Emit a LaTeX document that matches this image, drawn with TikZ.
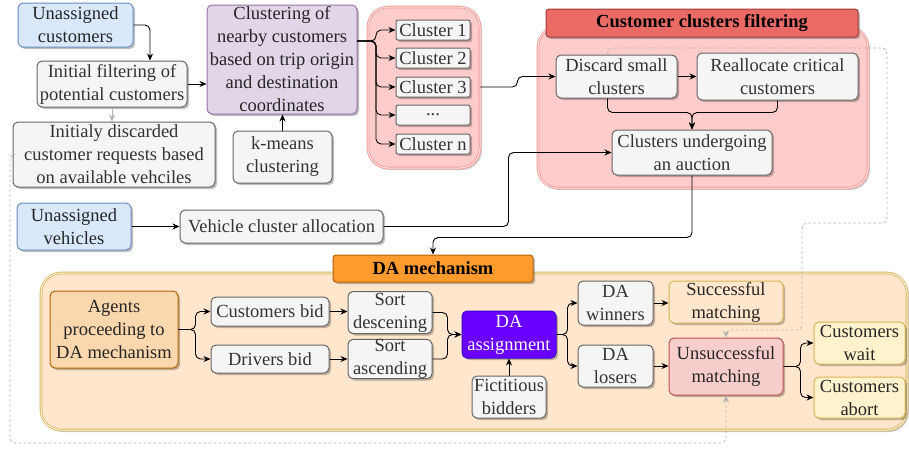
\documentclass[tikz,border=0pt]{standalone}
\usepackage{fontspec}
\setmainfont{Liberation Serif}
\usetikzlibrary{arrows.meta,shadows}

\definecolor{bluefill}{HTML}{DAE8FC}
\definecolor{blueline}{HTML}{6C8EBF}
\definecolor{grayfill}{HTML}{F5F5F5}
\definecolor{grayline}{HTML}{666666}
\definecolor{graytext}{HTML}{333333}
\definecolor{purplefill}{HTML}{E1D5E7}
\definecolor{purpleline}{HTML}{9673A6}
\definecolor{pinkfill}{HTML}{FFCCCC}
\definecolor{pinkline}{HTML}{F19C99}
\definecolor{redfill}{HTML}{EA6B66}
\definecolor{redline}{HTML}{A33B37}
\definecolor{orangefill}{HTML}{FF9A2E}
\definecolor{orangeline}{HTML}{B46504}
\definecolor{peachfill}{HTML}{FFE6CC}
\definecolor{goldline}{HTML}{D6B656}
\definecolor{agentfill}{HTML}{FAD7AC}
\definecolor{violetfill}{HTML}{6A00FF}
\definecolor{violetline}{HTML}{3700CC}
\definecolor{rosefill}{HTML}{F8CECC}
\definecolor{roseline}{HTML}{B85450}
\definecolor{yellowfill}{HTML}{FFF2CC}
\definecolor{dashgray}{HTML}{B3B3B3}

\tikzset{
  boxsize/.style 2 args={minimum width=#1pt, minimum height=#2pt},
  box/.style={draw=grayline, fill=grayfill, text=graytext, rounded corners=5pt,
    line width=1pt, align=center, inner sep=0pt,
    font=\fontsize{18.5}{23}\selectfont,
    drop shadow={shadow xshift=2pt, shadow yshift=-2pt, opacity=0.25, fill=black}},
  bluebox/.style={box, draw=blueline, fill=bluefill, text=black!85},
  purplebox/.style={box, draw=purpleline, fill=purplefill, text=black!85},
  agentbox/.style={box, draw=orangeline, fill=agentfill, text=black!85},
  violetbox/.style={box, draw=violetline, fill=violetfill, text=white},
  succbox/.style={box, draw=goldline, fill=peachfill, text=black!85},
  failbox/.style={box, draw=roseline, fill=rosefill, text=black!85},
  endbox/.style={box, draw=goldline, fill=yellowfill, text=black!85},
  titlebox/.style={box, text=black, font=\bfseries\fontsize{18.5}{23}\selectfont, rounded corners=3pt},
  container/.style={rounded corners=20pt, line width=0.8pt, double distance=1pt,
    drop shadow={shadow xshift=2pt, shadow yshift=-2pt, opacity=0.2, fill=black}},
  arr/.style={-{Stealth[length=7pt,width=6pt]}, line width=0.9pt, rounded corners=5pt},
  grayarr/.style={arr, draw=dashgray},
  graydash/.style={grayarr, dash pattern=on 2.5pt off 2.5pt, line width=0.8pt}
}

\begin{document}
\begin{tikzpicture}[x=1pt, y=-1pt]
  \useasboundingbox (0,0) rectangle (909,448);

  % Containers
  \node[container, draw=pinkline, double=pinkfill!60!white, fill=pinkfill, boxsize={112}{161}] (clcont) at (424,87.5) {};
  \node[container, draw=pinkline, double=pinkfill!60!white, fill=pinkfill, boxsize={330}{161}] (filtcont) at (703,107.5) {};
  \node[container, draw=goldline, double=peachfill!50!white, fill=peachfill, boxsize={866}{157}] (dacont) at (474,351.5) {};
  \node[titlebox, draw=redline, fill=redfill, boxsize={312}{28}] (filttitle) at (702,23) {Customer clusters filtering};
  \node[titlebox, draw=orangeline, fill=orangefill, boxsize={200}{27}] (datitle) at (433,268.5) {DA mechanism};

  % Customers and clustering
  \node[bluebox, boxsize={115}{44}] (ucust) at (75.5,25) {Unassigned\\customers};
  \node[box, boxsize={150}{46}] (filt) at (112,84) {Initial filtering of\\potential customers};
  \node[box, boxsize={202}{65}] (disc) at (114,154.5) {Initialy discarded\\customer requests based\\on available vehciles};
  \node[purplebox, boxsize={150}{109}] (clust) at (282,59.5) {Clustering of\\nearby customers\\based on trip origin\\and destination\\coordinates};
  \node[box, boxsize={99}{52}] (kmeans) at (282.5,157) {k-means\\clustering};
  \node[box, boxsize={74}{20}, rounded corners=2pt] (c1) at (433,30) {Cluster 1};
  \node[box, boxsize={74}{20}, rounded corners=2pt] (c2) at (433,58) {Cluster 2};
  \node[box, boxsize={74}{20}, rounded corners=2pt] (c3) at (433,87) {Cluster 3};
  \node[box, boxsize={74}{20}, rounded corners=2pt] (c4) at (433,115) {...};
  \node[box, boxsize={74}{20}, rounded corners=2pt] (c5) at (433,144) {Cluster n};

  % Cluster filtering
  \node[box, boxsize={121}{43}] (discard) at (616.5,76.5) {Discard small\\clusters};
  \node[box, boxsize={161}{47}] (realloc) at (777.5,76.5) {Reallocate critical\\customers};
  \node[box, boxsize={160}{45}] (auction) at (692,152.5) {Clusters undergoing\\an auction};

  % Vehicles
  \node[bluebox, boxsize={114}{47}] (uveh) at (74,226.5) {Unassigned\\vehicles};
  \node[box, boxsize={203}{33}] (vca) at (281.5,226.5) {Vehicle cluster allocation};

  % DA mechanism
  \node[agentbox, boxsize={128}{77}] (agents) at (114,329.5) {Agents\\proceeding to\\DA mechanism};
  \node[box, boxsize={118}{29}] (cbid) at (270,311.5) {Customers bid};
  \node[box, boxsize={118}{28}] (dbid) at (270,359) {Drivers bid};
  \node[box, boxsize={84}{42}] (sdesc) at (390,312.5) {Sort\\descening};
  \node[box, boxsize={84}{37}] (sasc) at (390,359) {Sort\\ascending};
  \node[violetbox, boxsize={94}{47}] (daassign) at (509,334.5) {DA\\assignment};
  \node[box, boxsize={74}{42}] (fict) at (509,397) {Fictitious\\bidders};
  \node[box, boxsize={75}{44}] (dawin) at (615.5,303) {DA\\winners};
  \node[box, boxsize={75}{42}] (dalose) at (615.5,366) {DA\\losers};
  \node[succbox, boxsize={114}{42}] (succ) at (726,302) {Successful\\matching};
  \node[failbox, boxsize={114}{57}] (unsucc) at (726,366.5) {Unsuccessful\\matching};
  \node[endbox, boxsize={91}{42}] (cwait) at (859.5,343) {Customers\\wait};
  \node[endbox, boxsize={91}{41}] (cabort) at (859.5,397.5) {Customers\\abort};

  % Dashed feedback paths
  \coordinate (dl) at (10,443);
  \coordinate (gr1) at (887,48);
  \coordinate (gr2) at (802,223);
  \coordinate (gr3) at (726,330);
  \draw[graydash] (disc.west) -| (dl) -| (unsucc.south);
  \draw[graydash] ([xshift=-9pt]discard.north) |- (gr1) |- (gr2) |- (gr3) -- (unsucc.north);

  % Connectors
  \draw[arr] (ucust.east) -| ([xshift=38pt]filt.north);
  \draw[arr] (filt.east) -- (filt.east -| clust.west);
  \draw[grayarr] (filt.south) -- (filt.south |- disc.north);
  \draw[arr] (kmeans.north) -- (kmeans.north |- clust.south);
  \coordinate (clout) at (357,41);
  \foreach \c in {c1,c2,c3,c4,c5}
    \draw[arr] (clout) -- ++(19,0) |- (\c.west);
  \draw[arr] (clcont.east |- c3) -- ++(37,0) |- (discard.west);
  \draw[arr] (discard.east) -- (realloc.west);
  \draw[arr] ([xshift=-9pt]discard.south) -- ++(0,14) -| (auction.north);
  \draw[arr] (realloc.south) -- ++(0,12) -| (auction.north);
  \draw[arr] (uveh.east) -- (vca.west);
  \draw[arr] (vca.east) -- ++(125,0) |- (auction.west);
  \draw[arr] (auction.south) -- ++(0,62) -| (datitle.north);

  \draw[arr] (agents.east) -- ++(17,0) |- (cbid.west);
  \draw[arr] (agents.east) -- ++(17,0) |- (dbid.west);
  \draw[arr] (cbid.east) -- (cbid.east -| sdesc.west);
  \draw[arr] (dbid.east) -- (dbid.east -| sasc.west);
  \draw[arr] (sdesc.east) -- ++(15,0) |- (daassign.west);
  \draw[arr] (sasc.east) -- ++(15,0) |- (daassign.west);
  \draw[arr] (fict.north) -- (daassign.south);
  \draw[arr] (daassign.east) -- ++(11,0) |- (dawin.west);
  \draw[arr] (daassign.east) -- ++(11,0) |- (dalose.west);
  \draw[arr] (dawin.east) -- (dawin.east -| succ.west);
  \draw[arr] (dalose.east) -- (dalose.east -| unsucc.west);
  \draw[arr] (unsucc.east) -- ++(17,0) |- (cwait.west);
  \draw[arr] (unsucc.east) -- ++(17,0) |- (cabort.west);
\end{tikzpicture}
\end{document}
